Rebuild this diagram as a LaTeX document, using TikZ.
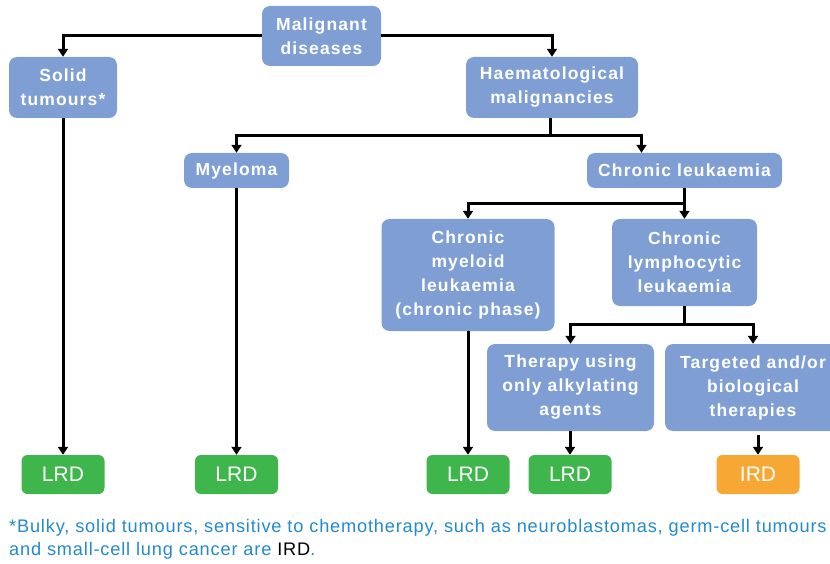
\documentclass[tikz,border=0pt]{standalone}
\usepackage{fontspec}
\setmainfont{Liberation Sans}
\newfontfamily\boxfont{Liberation Sans}[LetterSpace=6.5]
\newfontfamily\notefont{Liberation Sans}[LetterSpace=4.5]
\usetikzlibrary{positioning, arrows.meta, calc}
\definecolor{BoxBlue}{RGB}{127,159,212}
\definecolor{LrdGreen}{RGB}{62,182,76}
\definecolor{IrdOrange}{RGB}{247,167,52}
\definecolor{NoteBlue}{RGB}{35,138,206}
\tikzset{
  dbox/.style={rectangle, rounded corners=8pt, fill=BoxBlue, text=white, inner sep=0pt,
    align=center, font=\boxfont\bfseries\fontsize{17.5}{24}\selectfont},
  resbox/.style={rectangle, rounded corners=6pt, text=white, inner sep=0pt,
    minimum width=83pt, minimum height=39pt, font=\fontsize{21}{24}\selectfont},
  lrd/.style={resbox, fill=LrdGreen},
  ird/.style={resbox, fill=IrdOrange},
  link/.style={line width=3pt, black},
  arr/.style={link, -{Triangle[length=8pt,width=10pt]}}
}
\begin{document}
\begin{tikzpicture}[x=1pt, y=-1pt]
  \useasboundingbox (0,0) rectangle (830,564);
  % top levels
  \node[dbox, minimum width=119pt, minimum height=60pt] (mal) at (321.5,36) {Malignant\\diseases};
  \node[dbox, minimum width=108pt, minimum height=61pt] (solid) at (63,87.5) {Solid\\tumours*};
  \node[dbox, minimum width=172pt, minimum height=61pt] (haem) at (552,87.5) {Haematological\\malignancies};
  \node[dbox, minimum width=105pt, minimum height=35pt] (myel) at (236.5,170.5) {Myeloma};
  \node[dbox, minimum width=195pt, minimum height=35pt] (cl) at (684.5,170.5) {Chronic leukaemia};
  % leukaemia types
  \node[dbox, minimum width=173pt, minimum height=112pt] (cml) at (468,275) {Chronic\\myeloid\\leukaemia\\(chronic phase)};
  \node[dbox, minimum width=145pt, minimum height=87pt] (cll) at (684.5,262.5) {Chronic\\lymphocytic\\leukaemia};
  \node[dbox, minimum width=167pt, minimum height=87pt] (ther) at (570.5,387.5) {Therapy using\\only alkylating\\agents};
  \node[dbox, minimum width=176pt, minimum height=87pt] (targ) at (753,387.5) {Targeted and/or\\biological\\therapies};
  % outcomes
  \node[lrd] (lrdA) at (63,474.5) {LRD};
  \node[lrd] (lrdB) at (236.5,474.5) {LRD};
  \node[lrd] (lrdC) at (468,474.5) {LRD};
  \node[lrd] (lrdD) at (570,474.5) {LRD};
  \node[ird] (irdA) at (758,474.5) {IRD};
  % connectors
  \draw[arr] (mal.west) -| (solid.north);
  \draw[arr] (mal.east) -| (haem.north);
  \coordinate (jHaem) at ($(haem.south)+(-2,17)$);
  \draw[link] (jHaem |- haem.south) -- (jHaem);
  \draw[arr] (jHaem) -| (myel.north);
  \draw[arr] (jHaem) -| ([xshift=-43pt]cl.north);
  \coordinate (jCl) at ($(cl.south)+(0,15)$);
  \draw[link] (cl.south) -- (jCl);
  \draw[arr] (jCl) -| (cml.north);
  \draw[arr] (jCl) -- (cll.north);
  \coordinate (jCll) at ($(cll.south)+(0,18)$);
  \draw[link] (cll.south) -- (jCll);
  \draw[arr] (jCll) -| (ther.north);
  \draw[arr] (jCll) -| (targ.north);
  \draw[arr] (solid.south) -- (lrdA.north);
  \draw[arr] (lrdB.north |- myel.south) -- (lrdB.north);
  \draw[arr] (cml.south) -- (lrdC.north);
  \draw[arr] (lrdD.north |- ther.south) -- (lrdD.north);
  \draw[arr, shorten <=4pt] (irdA.north |- targ.south) -- (irdA.north);
  % footnote
  \node[anchor=north west, inner sep=0pt, align=left, text=NoteBlue,
    font=\notefont\fontsize{18.2}{23}\selectfont] (note) at (9,519)
    {*Bulky, solid tumours, sensitive to chemotherapy, such as neuroblastomas, germ-cell tumours\\
     and small-cell lung cancer are \textcolor{black}{IRD}.};
\end{tikzpicture}
\end{document}
